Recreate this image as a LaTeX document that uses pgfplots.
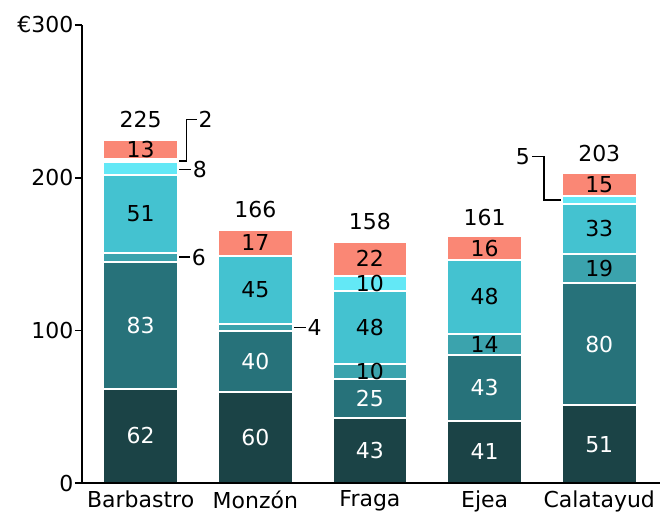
\documentclass[border=0pt]{standalone}
\usepackage{pgfplots}
\pgfplotsset{compat=1.18}
\usepackage{pgfplotstable}
\usepackage{fontspec}
\setmainfont{DejaVu Sans}
\definecolor{cA}{HTML}{1B4346}
\definecolor{cB}{HTML}{27727A}
\definecolor{cC}{HTML}{3BA3AD}
\definecolor{cD}{HTML}{44C2D0}
\definecolor{cE}{HTML}{63E8F6}
\definecolor{cF}{HTML}{FA8775}

\pgfplotstableread{
x y lab
0 62 62
1 60 60
2 43 43
3 41 41
4 51 51
}\tA
\pgfplotstableread{
x y lab
0 83 83
1 40 40
2 25 25
3 43 43
4 80 80
}\tB
\pgfplotstableread{
x y lab
0 6 {}
1 4 {}
2 10 10
3 14 14
4 19 19
}\tC
\pgfplotstableread{
x y lab
0 51 51
1 45 45
2 48 48
3 48 48
4 33 33
}\tD
\pgfplotstableread{
x y lab
0 8 {}
1 0 {}
2 10 10
3 0 {}
4 5 {}
}\tE
\pgfplotstableread{
x y lab
0 2 {}
1 0 {}
2 0 {}
3 0 {}
4 0 {}
}\tW
\pgfplotstableread{
x y lab
0 13 13
1 17 17
2 22 22
3 16 16
4 15 15
}\tF
\pgfplotstableread{
x y lab
0 225 225
1 166 166
2 158 158
3 161 161
4 203 203
}\tT

\pgfplotsset{
  common/.style={
    scale only axis,
    width=579pt, height=459pt,
    xmin=-0.513, xmax=4.53,
    ymin=0, ymax=300,
  }
}

\begin{document}
\begin{tikzpicture}[font=\fontsize{22}{26}\selectfont]
\begin{axis}[
  common,
  clip=false,
  ybar stacked,
  bar width=75pt,
  axis lines*=left,
  axis line style={line width=2pt, -},
  axis on top,
  xtick={0,1,2,3,4},
  xticklabels={Barbastro,Monzón,Fraga,Ejea,Calatayud},
  x tick style={draw=none},
  ytick={0,100,200,300},
  yticklabels={0,100,200,€300},
  y tick style={line width=1.6pt, black},
  tick align=outside,
  major tick length=7pt,
  ytick pos=left,
  xticklabel style={yshift=3pt},
  yticklabel style={xshift=2pt},
  /pgf/number format/assume math mode=true,
  tick label style={font=\fontsize{22}{26}\selectfont},
  point meta=explicit symbolic,
  nodes near coords,
  every node near coord/.append style={anchor=center, font=\fontsize{22}{26}\selectfont},
  every axis plot/.append style={draw=white, line width=2pt},
]
\addplot[fill=cA, every node near coord/.append style={text=white}] table[x=x,y=y,meta=lab]{\tA};
\addplot[fill=cB, every node near coord/.append style={text=white}] table[x=x,y=y,meta=lab]{\tB};
\addplot[fill=cC] table[x=x,y=y,meta=lab]{\tC};
\addplot[fill=cD] table[x=x,y=y,meta=lab]{\tD};
\addplot[fill=cE] table[x=x,y=y,meta=lab]{\tE};
\addplot[fill=white] table[x=x,y=y,meta=lab]{\tW};
\addplot[fill=cF] table[x=x,y=y,meta=lab]{\tF};
% callouts
\draw[line width=1.6pt] (axis cs:0.26,148) -- (axis cs:0.43,148) node[anchor=west, inner sep=1pt] {6};
\draw[line width=1.6pt] (axis cs:0.26,205.5) -- (axis cs:0.44,205.5) node[anchor=west, inner sep=1pt] {8};
\draw[line width=1.6pt] (axis cs:0.26,210.8) -- (axis cs:0.40,210.8) -- (axis cs:0.40,238) -- (axis cs:0.49,238) node[anchor=west, inner sep=1pt] {2};
\draw[line width=1.6pt] (axis cs:1.26,102) -- (axis cs:1.44,102) node[anchor=west, inner sep=1pt] {4};
\draw[line width=1.6pt] (axis cs:3.74,185.5) -- (axis cs:3.52,185.5) -- (axis cs:3.52,214) -- (axis cs:3.41,214) node[anchor=east, inner sep=1pt] {5};
\path (rel axis cs:-0.1416,-0.0675) rectangle (rel axis cs:1,1.0545);
\end{axis}
\begin{axis}[common, hide axis]
\addplot[only marks, mark=none, point meta=explicit symbolic, nodes near coords,
  every node near coord/.style={anchor=center, yshift=20pt, font=\fontsize{22}{26}\selectfont}]
  table[x=x,y=y,meta=lab]{\tT};
\end{axis}
\end{tikzpicture}
\end{document}
